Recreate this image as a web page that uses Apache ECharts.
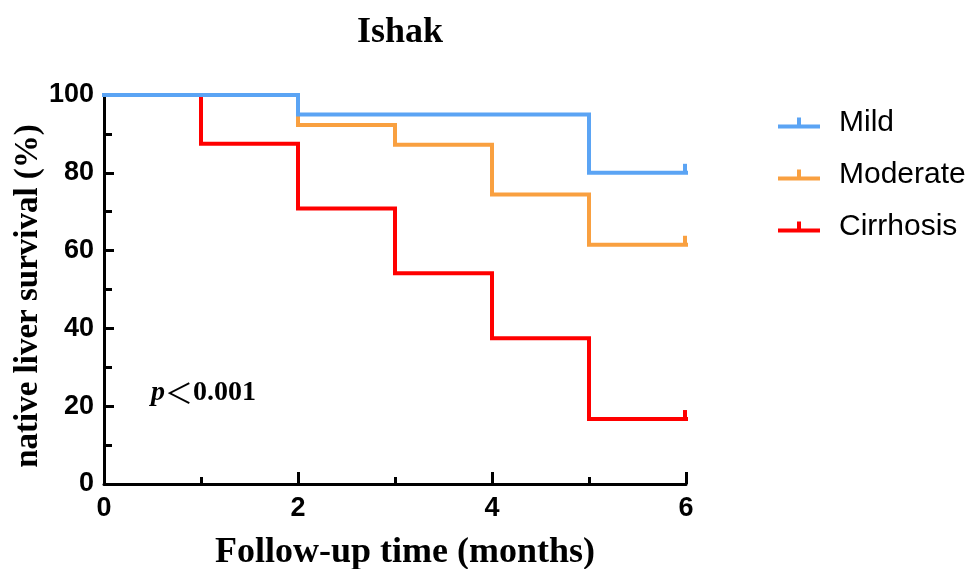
<!DOCTYPE html>
<html>
<head>
<meta charset="utf-8">
<script src="https://cdn.jsdelivr.net/npm/echarts@6/dist/echarts.min.js"></script>
<style>html,body{margin:0;padding:0;background:#fff}#c{width:971px;height:569px}</style>
</head>
<body>
<div id="c"></div>
<script>
const titleText = 'Ishak';
const xName = 'Follow-up time (months)';
const yName = 'native liver survival (%)';
const seriesNames = ['Mild', 'Moderate', 'Cirrhosis'];
const colors = {Mild: '#5ba4f4', Moderate: '#f9a040', Cirrhosis: '#ff0000'};
// time points (months) and survival (%) for each group, KM steps
const mildTime = [0, 2, 5, 6];
const mildSurv = [100, 95, 80, 80];
const moderateTime = [0, 2, 3, 4, 5, 6];
const moderateSurv = [100, 92.3, 87.2, 74.4, 61.5, 61.5];
const cirrhosisTime = [0, 1, 2, 3, 4, 5, 6];
const cirrhosisSurv = [100, 87.5, 70.8, 54.2, 37.5, 16.7, 16.7];
const pSymbol = 'p';
const pLess = '＜';
const pValue = '0.001';

const chart = echarts.init(document.getElementById('c'));
function mk(name, t, s) {
  const data = t.map((x, i) => {
    const last = i === t.length - 1;
    return {
      value: [x, s[i]],
      symbol: last ? 'rect' : 'none',
      symbolSize: last ? [4, 10] : 0,
      symbolOffset: last ? [-1, -4] : [0, 0]
    };
  });
  return {
    name: name, type: 'line', step: 'end', data: data,
    showSymbol: true, showAllSymbol: true,
    lineStyle: {width: 4, color: colors[name], join: 'miter', cap: 'square'},
    itemStyle: {color: colors[name], borderWidth: 0},
    emphasis: {disabled: true}, animation: false, clip: false
  };
}
const legendIcon = 'path://M0,7 L42,7 L42,11 L0,11 Z M19,0 L23,0 L23,7 L19,7 Z';
chart.setOption({
  backgroundColor: '#fff',
  animation: false,
  title: {text: titleText, left: 395, top: 10, textAlign: 'center',
    textStyle: {fontFamily: 'Liberation Serif', fontWeight: 'bold', fontSize: 36, color: '#000'}},
  legend: {
    orient: 'vertical', left: 773, top: 103, itemWidth: 42, itemHeight: 11, itemGap: 22,
    data: seriesNames.map(n => ({name: n, icon: legendIcon})),
    textStyle: {fontFamily: 'Liberation Sans', fontSize: 30, color: '#000', padding: [0, 0, 0, 14]}
  },
  grid: {left: 104, right: 285, top: 95, bottom: 85, containLabel: false},
  xAxis: {
    type: 'value', min: 0, max: 6, interval: 2,
    axisLine: {lineStyle: {color: '#000', width: 3}},
    axisTick: {inside: true, length: 12, lineStyle: {width: 3, color: '#000'}},
    minorTick: {show: true, splitNumber: 2, length: 7, lineStyle: {width: 3, color: '#000'}},
    splitLine: {show: false},
    axisLabel: {margin: 11, fontFamily: 'Liberation Sans', fontWeight: 'bold', fontSize: 27, color: '#000'}
  },
  yAxis: {
    type: 'value', min: 0, max: 100, interval: 20,
    axisLine: {show: true, lineStyle: {color: '#000', width: 3}},
    axisTick: {show: true, inside: true, length: 10, lineStyle: {width: 3, color: '#000'}},
    minorTick: {show: true, splitNumber: 2, length: 8, lineStyle: {width: 3, color: '#000'}},
    splitLine: {show: false},
    axisLabel: {margin: 10, fontFamily: 'Liberation Sans', fontWeight: 'bold', fontSize: 27, color: '#000'}
  },
  graphic: [
    {type: 'text', x: 405, y: 535, style: {text: xName, fill: '#000',
      font: 'bold 36px "Liberation Serif"', textAlign: 'center', textVerticalAlign: 'top'}},
    {type: 'text', x: 12, y: 296, rotation: Math.PI / 2, style: {text: yName, fill: '#000',
      font: 'bold 33px "Liberation Serif"', textAlign: 'center', textVerticalAlign: 'top'}},
    {type: 'text', x: 151, y: 379, style: {
      text: '{i|' + pSymbol + '}{l|' + pLess + '}{n|' + pValue + '}',
      rich: {
        i: {fontFamily: 'Liberation Serif', fontStyle: 'italic', fontWeight: 'bold', fontSize: 28, fill: '#000'},
        l: {fontFamily: 'Noto Sans CJK SC', fontWeight: 'normal', fontSize: 28, fill: '#000'},
        n: {fontFamily: 'Liberation Serif', fontWeight: 'bold', fontSize: 28, fill: '#000'}
      }}}
  ],
  series: [
    mk('Cirrhosis', cirrhosisTime, cirrhosisSurv),
    mk('Moderate', moderateTime, moderateSurv),
    mk('Mild', mildTime, mildSurv)
  ]
});
</script>
</body>
</html>
